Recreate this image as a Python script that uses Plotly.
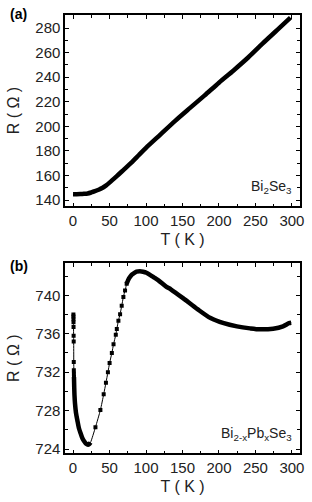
import plotly.graph_objects as go

# ---------- data: panel (a) Bi2Se3 ----------
a_T = [0, 5, 10, 15, 20, 25, 30, 35, 40, 45, 50, 60, 70, 80, 90, 100, 120, 140,
       160, 180, 200, 220, 240, 260, 280, 298]
a_R = [144.8, 144.8, 144.9, 145.1, 145.4, 146.2, 147.2, 148.4, 149.8, 151.8, 154.2,
       159.5, 165.0, 170.5, 176.5, 182.5, 193.5, 204.5, 214.8, 225.0, 235.5, 245.5,
       256.0, 267.5, 278.5, 288.5]

# ---------- data: panel (b) Bi2-xPbxSe3 ----------
# sparse points near T = 0
b_stack_T = [0.5, 0.55, 0.6, 0.65, 0.7, 0.8, 0.9, 1.0, 1.1, 1.2, 1.3]
b_stack_R = [738.0, 737.8, 737.5, 737.2, 736.7, 735.8, 735.2, 733.05, 732.2, 731.85, 731.5]
# dense low-T branch
b_low_T = [1.3, 1.6, 2.0, 2.7, 4.0, 5.9, 8.0, 10.4, 13.0, 15.0, 18.0, 20.5, 22.0, 24.0]
b_low_R = [731.5, 730.5, 729.6, 728.75, 727.8, 727.0, 726.2, 725.65, 725.1, 724.85,
           724.55, 724.45, 724.5, 724.7]
# sparse rising branch
b_rise_T = [30.7, 37.5, 42.0, 45.1, 47.8, 50.1, 53.2, 55.5, 58.6, 60.0, 62.2, 64.5,
            66.7, 69.0, 71.3, 73.5]
b_rise_R = [726.27, 728.07, 729.7, 730.9, 732.0, 732.95, 734.0, 734.9, 735.9, 736.5,
            737.35, 738.04, 738.9, 739.83, 740.5, 741.2]
# dense high-T branch
b_high_T = [73.5, 76.7, 80.0, 82.5, 87.0, 91.6, 96.0, 100.6, 106.0, 112.0, 117.0,
            127.6, 134.4, 152.5, 170.5, 188.5, 206.6, 224.6, 242.6, 256.2, 274.3,
            287.8, 296.0, 299.0]
b_high_R = [741.2, 741.75, 742.1, 742.24, 742.45, 742.5, 742.45, 742.34, 742.1, 741.8,
            741.55, 740.9, 740.6, 739.6, 738.56, 737.63, 737.1, 736.77, 736.56, 736.46,
            736.53, 736.77, 737.1, 737.15]

x_ticks = [0, 50, 100, 150, 200, 250, 300]
a_yticks = [140, 160, 180, 200, 220, 240, 260, 280]
b_yticks = [724, 728, 732, 736, 740]

FONT = "Liberation Sans, Arial, sans-serif"
W, H = 312, 502

fig = go.Figure()

# panel (a)
fig.add_trace(go.Scatter(x=a_T, y=a_R, mode="lines",
                         line=dict(color="black", width=4.5, shape="spline", smoothing=0.8),
                         xaxis="x", yaxis="y", showlegend=False))

# panel (b) thin connecting line
all_T = b_stack_T + b_low_T + b_rise_T + b_high_T
all_R = b_stack_R + b_low_R + b_rise_R + b_high_R
fig.add_trace(go.Scatter(x=all_T, y=all_R, mode="lines",
                         line=dict(color="black", width=1, shape="spline", smoothing=0.6),
                         xaxis="x2", yaxis="y2", showlegend=False))
# dense branches
for tt, rr in [(b_low_T, b_low_R), (b_high_T, b_high_R)]:
    fig.add_trace(go.Scatter(x=tt, y=rr, mode="lines",
                             line=dict(color="black", width=4.5, shape="spline", smoothing=0.8),
                             xaxis="x2", yaxis="y2", showlegend=False))
# sparse markers
for tt, rr in [(b_stack_T, b_stack_R), (b_rise_T, b_rise_R)]:
    fig.add_trace(go.Scatter(x=tt, y=rr, mode="markers",
                             marker=dict(symbol="square", size=4, color="black"),
                             xaxis="x2", yaxis="y2", showlegend=False))

xdom = [66 / W, 304 / W]
a_dom = [1 - 208 / H, 1 - 15 / H]
b_dom = [1 - 457 / H, 1 - 265 / H]

common = dict(showline=True, linecolor="black", linewidth=1.5, mirror="ticks",
              ticks="inside", ticklen=4, tickwidth=1, tickcolor="black",
              showgrid=False, zeroline=False, ticklabeloverflow="allow",
              tickfont=dict(family=FONT, size=15, color="#222"))

xcommon = dict(common, range=[-10.8, 311.2], tickvals=x_ticks,
               minor=dict(ticks="inside", dtick=25, tick0=0, ticklen=3, tickcolor="black"),
               title=dict(text="T ( K )", font=dict(family=FONT, size=16, color="#222"),
                          standoff=6))

ytitle = dict(text="R ( Ω )", font=dict(family=FONT, size=16, color="#222"), standoff=12)

fig.update_layout(
    width=W, height=H,
    margin=dict(l=0, r=0, t=0, b=0),
    paper_bgcolor="white", plot_bgcolor="white",
    xaxis=dict(xcommon, domain=xdom, anchor="y"),
    yaxis=dict(common, domain=a_dom, anchor="x", range=[134.9, 290.7], tickvals=a_yticks,
               minor=dict(ticks="inside", dtick=10, tick0=0, ticklen=3, tickcolor="black"),
               title=ytitle),
    xaxis2=dict(xcommon, domain=xdom, anchor="y2"),
    yaxis2=dict(common, domain=b_dom, anchor="x2", range=[723.56, 743.37], tickvals=b_yticks,
                minor=dict(ticks="inside", dtick=2, tick0=0, ticklen=3, tickcolor="black"),
                title=ytitle),
    annotations=[
        dict(text="<b>(a)</b>", x=8 / W, y=1 - 14 / H, xref="paper", yref="paper",
             xanchor="left", yanchor="middle", showarrow=False,
             font=dict(family=FONT, size=14, color="black")),
        dict(text="<b>(b)</b>", x=8 / W, y=1 - 268 / H, xref="paper", yref="paper",
             xanchor="left", yanchor="middle", showarrow=False,
             font=dict(family=FONT, size=14, color="black")),
        dict(text="Bi<sub>2</sub>Se<sub>3</sub>", x=298 / W, y=1 - 188 / H,
             xref="paper", yref="paper", xanchor="right", yanchor="middle",
             showarrow=False, font=dict(family=FONT, size=14, color="#222")),
        dict(text="Bi<sub>2-x</sub>Pb<sub>x</sub>Se<sub>3</sub>", x=298 / W, y=1 - 437 / H,
             xref="paper", yref="paper", xanchor="right", yanchor="middle",
             showarrow=False, font=dict(family=FONT, size=14, color="#222")),
    ],
)

fig.write_html("out.html",
               config={"displayModeBar": False},
               post_script="document.body.style.margin='0';"
                           "document.body.style.overflow='hidden';")
